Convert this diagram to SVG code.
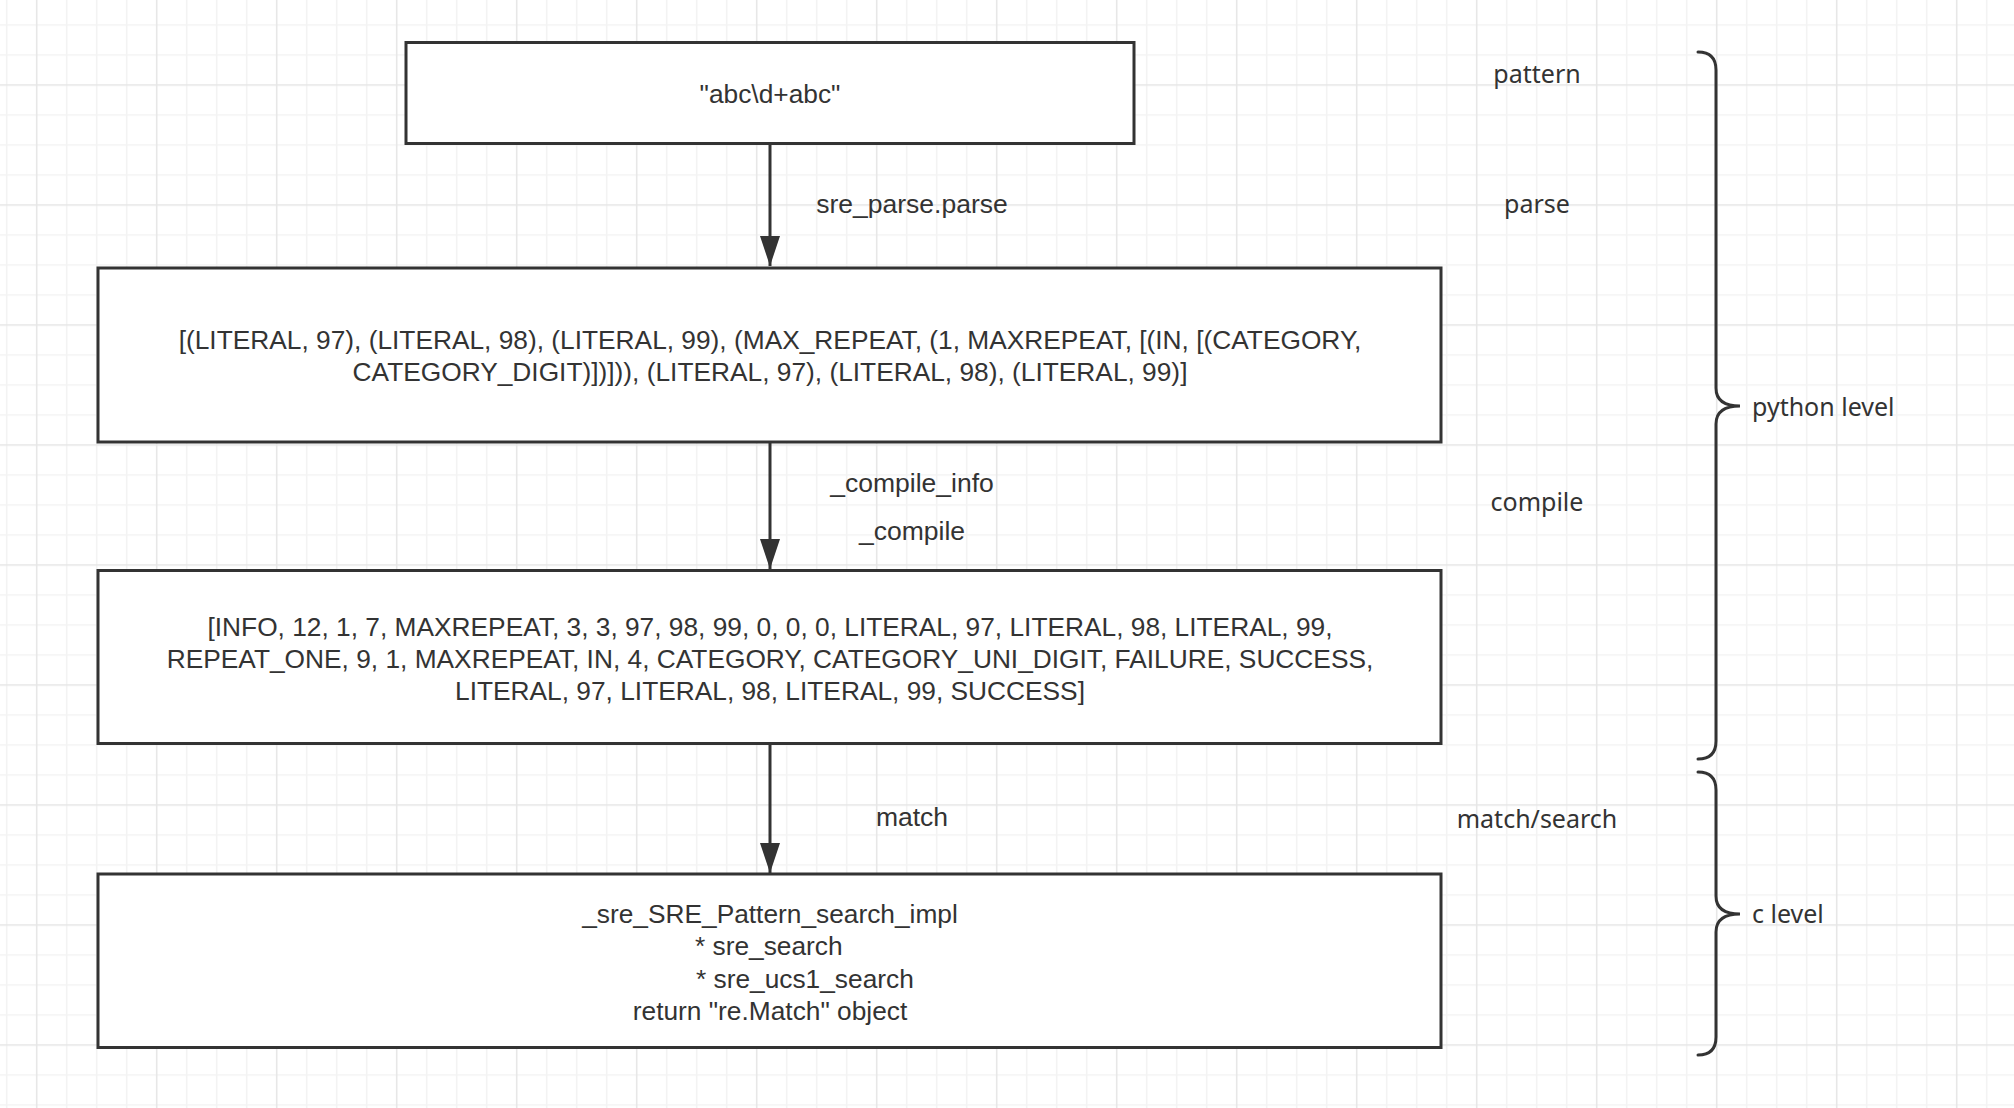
<svg xmlns="http://www.w3.org/2000/svg" width="2014" height="1108" viewBox="0 0 2014 1108">
  <defs>
    <pattern id="grid" patternUnits="userSpaceOnUse" x="35.92" y="84.25" width="120" height="120">
      <rect x="0" y="0" width="120" height="120" fill="#ffffff"/>
      <rect x="30" y="0" width="1.5" height="120" fill="#f3f3f3"/>
      <rect x="60" y="0" width="1.5" height="120" fill="#f3f3f3"/>
      <rect x="90" y="0" width="1.5" height="120" fill="#f3f3f3"/>
      <rect x="0" y="30" width="120" height="1.5" fill="#f3f3f3"/>
      <rect x="0" y="60" width="120" height="1.5" fill="#f3f3f3"/>
      <rect x="0" y="90" width="120" height="1.5" fill="#f3f3f3"/>
      <rect x="0" y="0" width="1.5" height="120" fill="#e6e6e6"/>
      <rect x="0" y="0" width="120" height="1.5" fill="#e6e6e6"/>
    </pattern>
    <marker id="arrow" markerUnits="userSpaceOnUse" markerWidth="30" markerHeight="20" refX="30" refY="10" orient="auto" viewBox="0 0 30 20">
      <path d="M0,0 L30,10 L0,20 Z" fill="#333333"/>
    </marker>
    <style>
      .box { fill: #ffffff; stroke: #333333; stroke-width: 3; }
      .edge { stroke: #333333; stroke-width: 3; fill: none; }
      .brace { stroke: #333333; stroke-width: 3; fill: none; stroke-linecap: round; }
      .t { font-family: "Liberation Sans", Arial, sans-serif; font-size: 26.3px; fill: #333333; text-anchor: middle; dominant-baseline: central; }
      .ts { font-family: "Liberation Sans", Arial, sans-serif; font-size: 26.3px; fill: #333333; dominant-baseline: central; }
      .lbl { font-family: "Liberation Sans", Arial, sans-serif; font-size: 26.5px; fill: #333333; text-anchor: middle; dominant-baseline: central; }
      .side { font-family: "Noto Sans", "Liberation Sans", sans-serif; font-size: 25px; fill: #333333; text-anchor: middle; dominant-baseline: central; }
      .sidel { font-family: "Noto Sans", "Liberation Sans", sans-serif; font-size: 25px; fill: #333333; dominant-baseline: central; }
    </style>
  </defs>
  <rect x="0" y="0" width="2014" height="1108" fill="url(#grid)"/>

  <g id="connectors">
    <line class="edge" x1="770" y1="144" x2="770" y2="266" marker-end="url(#arrow)"/>
    <line class="edge" x1="770" y1="442" x2="770" y2="569" marker-end="url(#arrow)"/>
    <line class="edge" x1="770" y1="743" x2="770" y2="873" marker-end="url(#arrow)"/>
    <text class="lbl" x="912" y="204">sre_parse.parse</text>
    <text class="lbl" x="912" y="483">_compile_info</text>
    <text class="lbl" x="912" y="531">_compile</text>
    <text class="lbl" x="912" y="817">match</text>
  </g>

  <g id="node-pattern">
    <rect class="box" x="406" y="42.5" width="728" height="101"/>
    <text class="t" x="770" y="94">"abc\d+abc"</text>
  </g>

  <g id="node-parsed">
    <rect class="box" x="98" y="268" width="1343" height="174"/>
    <text class="t" x="770" y="340">[(LITERAL, 97), (LITERAL, 98), (LITERAL, 99), (MAX_REPEAT, (1, MAXREPEAT, [(IN, [(CATEGORY,</text>
    <text class="t" x="770" y="372">CATEGORY_DIGIT)])])), (LITERAL, 97), (LITERAL, 98), (LITERAL, 99)]</text>
  </g>

  <g id="node-compiled">
    <rect class="box" x="98" y="570.5" width="1343" height="173"/>
    <text class="t" x="770" y="627">[INFO, 12, 1, 7, MAXREPEAT, 3, 3, 97, 98, 99, 0, 0, 0, LITERAL, 97, LITERAL, 98, LITERAL, 99,</text>
    <text class="t" x="770" y="659">REPEAT_ONE, 9, 1, MAXREPEAT, IN, 4, CATEGORY, CATEGORY_UNI_DIGIT, FAILURE, SUCCESS,</text>
    <text class="t" x="770" y="691">LITERAL, 97, LITERAL, 98, LITERAL, 99, SUCCESS]</text>
  </g>

  <g id="node-search">
    <rect class="box" x="98" y="874" width="1343" height="173.5"/>
    <text class="t" x="770" y="914">_sre_SRE_Pattern_search_impl</text>
    <text class="ts" x="695" y="946">* sre_search</text>
    <text class="ts" x="696" y="979">* sre_ucs1_search</text>
    <text class="t" x="770" y="1011">return "re.Match" object</text>
  </g>

  <g id="side-labels">
    <text class="side" x="1537" y="73">pattern</text>
    <text class="side" x="1537" y="203">parse</text>
    <text class="side" x="1537" y="501">compile</text>
    <text class="side" x="1537" y="818">match/search</text>
  </g>

  <g id="brace-python">
    <path class="brace" d="M1698,52 Q1716,52 1716,70 L1716,388 Q1716,406 1740,406 Q1716,406 1716,424 L1716,741 Q1716,759 1698,759"/>
    <text class="sidel" x="1752" y="406">python level</text>
  </g>

  <g id="brace-c">
    <path class="brace" d="M1698,772 Q1716,772 1716,790 L1716,896 Q1716,914 1740,914 Q1716,914 1716,932 L1716,1037 Q1716,1055 1698,1055"/>
    <text class="sidel" x="1752" y="913">c level</text>
  </g>
</svg>
